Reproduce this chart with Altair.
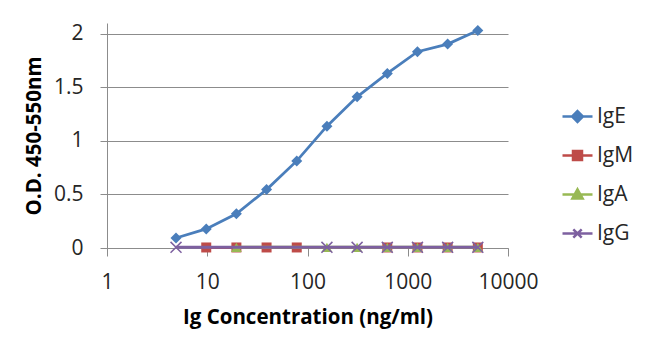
import altair as alt
import pandas as pd

# ---- data ----
conc = [4.88, 9.77, 19.53, 39.06, 78.13, 156.25, 312.5, 625, 1250, 2500, 5000]
ige = [0.093, 0.178, 0.32, 0.545, 0.813, 1.137, 1.411, 1.629, 1.832, 1.903, 2.031]
igm_x = [9.77, 19.53, 39.06, 78.13, 625, 1250, 2500, 5000]
igm = [0.005, 0.005, 0.005, 0.005, 0.005, 0.005, 0.005, 0.005]
iga_x = [19.53, 156.25, 312.5, 625, 1250, 2500, 5000]
iga = [0.006, 0.006, 0.006, 0.006, 0.006, 0.006, 0.006]
igg_x = [4.88, 156.25, 312.5, 625, 1250, 2500, 5000]
igg = [0.006, 0.006, 0.006, 0.006, 0.006, 0.006, 0.006]

series_names = ["IgE", "IgM", "IgA", "IgG"]
series_colors = ["#4A7EBB", "#BE4B48", "#98B954", "#7D60A0"]
x_ticks = [1, 10, 100, 1000, 10000]
y_ticks = [0, 0.5, 1, 1.5, 2]

rows = []
for name, xs, ys in [("IgE", conc, ige), ("IgM", igm_x, igm), ("IgA", iga_x, iga), ("IgG", igg_x, igg)]:
    for xv, yv in zip(xs, ys):
        rows.append({"series": name, "conc": xv, "od": yv})
df = pd.DataFrame(rows)

FONT = "Open Sans"

# legend symbols: a line segment with the series marker
leg_paths = [
    "M-1,0L1,0M0,-0.36L0.36,0L0,0.36L-0.36,0Z",
    "M-1,0L1,0M-0.3,-0.3L0.3,-0.3L0.3,0.3L-0.3,0.3Z",
    "M-1,0L1,0M0,-0.34L0.34,0.26L-0.34,0.26Z",
    "M-1,0L1,0M-0.28,-0.28L0.28,0.28M-0.28,0.28L0.28,-0.28",
]

color_scale = alt.Scale(domain=series_names, range=series_colors)

x_enc = alt.X(
    "conc:Q",
    scale=alt.Scale(type="log", domain=[1, 10000], nice=False),
    axis=alt.Axis(
        values=x_ticks, format="d", title="Ig Concentration (ng/ml)", grid=False,
        tickSize=8, labelPadding=15, titlePadding=15, labelFlush=False,
    ),
)
y_enc = alt.Y(
    "od:Q",
    scale=alt.Scale(domain=[0, 2.1], nice=False, zero=True),
    axis=alt.Axis(
        values=y_ticks, format="~g", title="O.D. 450-550nm", grid=True,
        tickSize=7, labelPadding=17, titlePadding=9,
    ),
)

legend = alt.Legend(
    title=None, orient="none", legendX=454, legendY=77, padding=0,
    symbolSize=900, labelOffset=3, rowPadding=12, labelFontSize=21,
    labelFont=FONT, labelColor="#262626", symbolStrokeWidth=2.5,
    symbolOpacity=1,
)

marker = {
    "IgE": dict(shape="diamond", filled=True, size=121, strokeWidth=0),
    "IgM": dict(shape="square", filled=True, size=100, strokeWidth=0),
    "IgA": dict(shape="triangle-up", filled=True, size=115, strokeWidth=0),
    "IgG": dict(shape="M-1,-1L1,1M-1,1L1,-1", filled=False, size=120, strokeWidth=1.5),
}

layers = []
for i, name in enumerate(series_names):
    base = alt.Chart(df).transform_filter(alt.datum.series == name)
    line = base.mark_line(strokeWidth=2.75 if name == "IgE" else 3).encode(
        x=x_enc, y=y_enc,
        color=alt.Color("series:N", scale=color_scale, legend=None),
    )
    pts = base.mark_point(opacity=1, **marker[name]).encode(
        x=x_enc, y=y_enc,
        color=alt.Color("series:N", scale=color_scale, legend=None),
    )
    layers += [line, pts]

# legend-only layer: invisible marks, legend built from the scales' domains
leg_layer = alt.Chart(df).mark_point(opacity=0, strokeWidth=2.5, filled=True).encode(
    x=x_enc, y=y_enc,
    fill=alt.Fill("series:N", scale=alt.Scale(domain=series_names, range=series_colors), legend=legend),
    stroke=alt.Stroke("series:N", scale=alt.Scale(domain=series_names, range=series_colors), legend=legend),
    shape=alt.Shape("series:N", scale=alt.Scale(domain=series_names, range=leg_paths), legend=legend),
)
layers.insert(0, leg_layer)

chart = alt.layer(*layers).properties(
    width=401, height=225,
    autosize=alt.AutoSizeParams(type="none"),
    padding={"left": 107, "top": 23, "right": 142, "bottom": 100},
    background="white",
).configure_view(stroke=None).configure_axis(
    domainColor="#8C8C8C", tickColor="#8C8C8C", gridColor="#8C8C8C",
    domainWidth=1, tickWidth=1, gridWidth=1,
    labelFont=FONT, labelFontSize=21, labelColor="#262626",
    titleFont=FONT, titleFontSize=20.5, titleFontWeight="bold", titleColor="#000000",
)

chart.save("out.html", embed_options={"renderer": "svg", "actions": False})
